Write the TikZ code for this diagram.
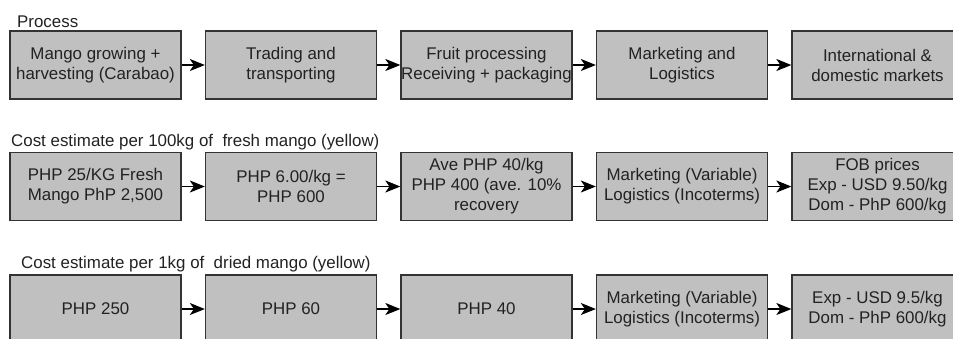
\documentclass[tikz,border=0pt]{standalone}
\usepackage{fontspec}
\setmainfont{Liberation Sans}
\usetikzlibrary{arrows.meta}
\definecolor{boxfill}{HTML}{C0C0C0}
\definecolor{boxline}{HTML}{333333}
\definecolor{ink}{HTML}{222222}
\tikzset{
  stage/.style={rectangle, draw=boxline, fill=boxfill, line width=1.3pt,
    minimum width=171pt, minimum height=68pt, inner sep=0pt, align=center,
    text=ink, font=\fontsize{16.9}{20}\selectfont},
  rowtitle/.style={anchor=base west, inner sep=0pt, text=ink,
    font=\fontsize{16.9}{20}\selectfont},
  flow/.style={draw=black, line width=1.1pt, -{Stealth[length=15pt,width=12pt,inset=4pt]}}
}
\begin{document}
\begin{tikzpicture}[x=1pt,y=-1pt]
\clip (0,0) rectangle (953,338);
\fill[white] (0,0) rectangle (953,338);

% Row 1: process chain
\node[rowtitle] (t1) at (17,27) {Process};
\node[stage] (p1) at (95.5,65) {Mango growing +\\harvesting (Carabao)};
\node[stage] (p2) at (291,65) {Trading and\\transporting};
\node[stage] (p3) at (486.5,65) {Fruit processing\\Receiving + packaging};
\node[stage] (p4) at (682,65) {Marketing and\\Logistics};
\node[stage] (p5) at (877.5,65) {International \&\\domestic markets};
\draw[flow] (p1) -- (p2);
\draw[flow] (p2) -- (p3);
\draw[flow] (p3) -- (p4);
\draw[flow] (p4) -- (p5);

% Row 2: cost per 100 kg of fresh mango
\node[rowtitle] (t2) at (11,146) {Cost estimate per 100kg of\ \ fresh mango (yellow)};
\node[stage] (f1) at (95.5,186.5) {PHP 25/KG Fresh\\Mango PhP 2,500};
\node[stage] (f2) at (291,186.5) {PHP 6.00/kg =\\PHP 600};
\node[stage] (f3) at (486.5,186.5) {Ave PHP 40/kg\\PHP 400 (ave. 10\%\\recovery};
\node[stage] (f4) at (682,186.5) {Marketing (Variable)\\Logistics (Incoterms)};
\node[stage] (f5) at (877.5,186.5) {FOB prices\\Exp - USD 9.50/kg\\Dom - PhP 600/kg};
\draw[flow] (f1) -- (f2);
\draw[flow] (f2) -- (f3);
\draw[flow] (f3) -- (f4);
\draw[flow] (f4) -- (f5);

% Row 3: cost per 1 kg of dried mango
\node[rowtitle] (t3) at (21,268) {Cost estimate per 1kg of\ \ dried mango (yellow)};
\node[stage] (d1) at (95.5,309) {PHP 250};
\node[stage] (d2) at (291,309) {PHP 60};
\node[stage] (d3) at (486.5,309) {PHP 40};
\node[stage] (d4) at (682,309) {Marketing (Variable)\\Logistics (Incoterms)};
\node[stage] (d5) at (877.5,309) {Exp - USD 9.5/kg\\Dom - PhP 600/kg};
\draw[flow] (d1) -- (d2);
\draw[flow] (d2) -- (d3);
\draw[flow] (d3) -- (d4);
\draw[flow] (d4) -- (d5);
\end{tikzpicture}
\end{document}
